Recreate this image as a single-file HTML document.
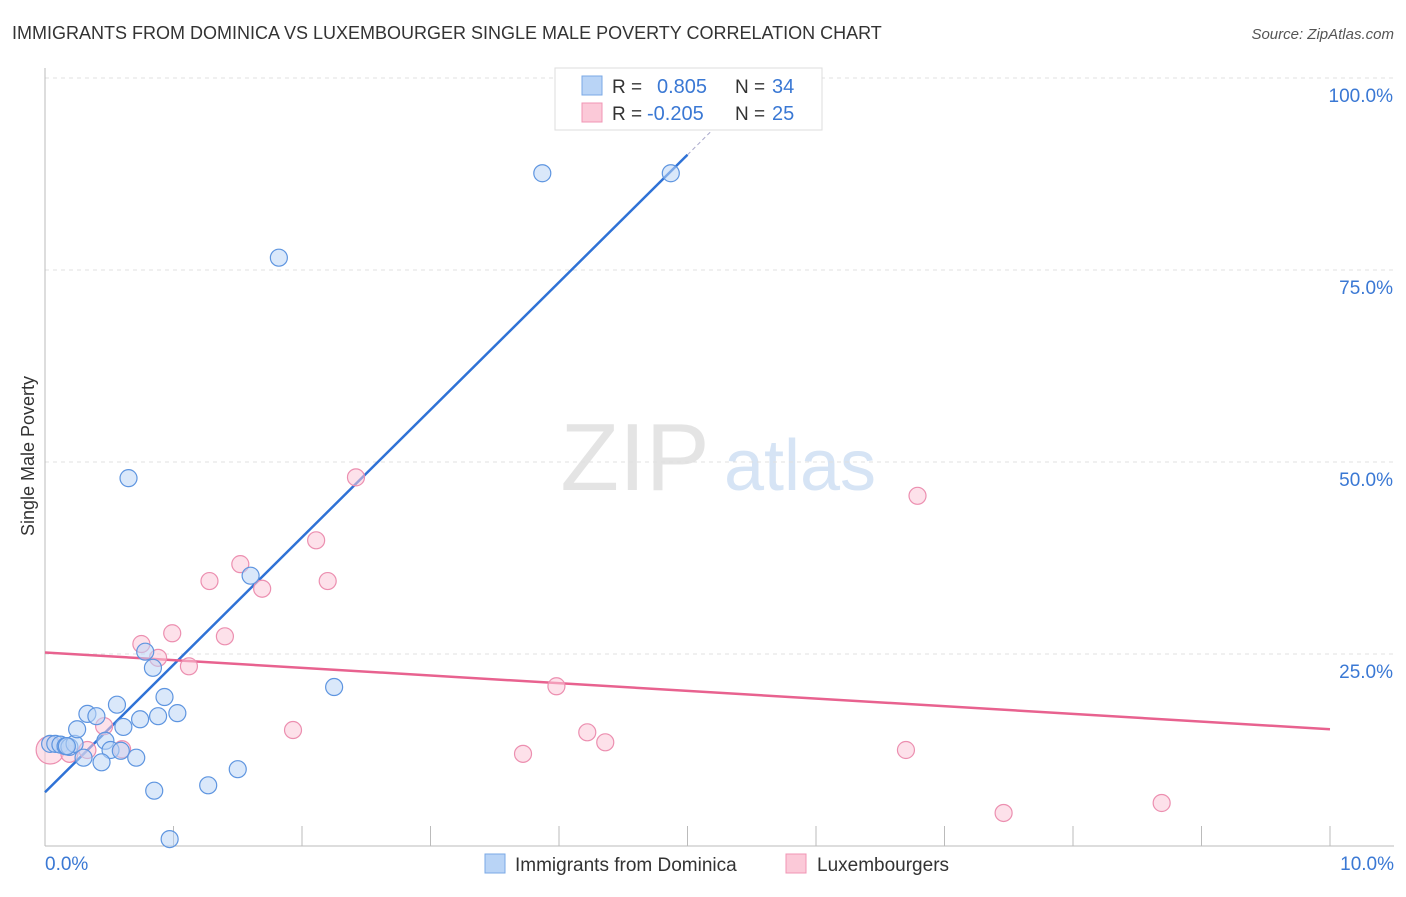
<!DOCTYPE html>
<html><head><meta charset="utf-8"><style>
body{margin:0;background:#fff;font-family:"Liberation Sans",sans-serif;}
svg text{font-family:"Liberation Sans",sans-serif;}
</style></head><body>
<svg width="1406" height="892" id="chart">
<text x="12" y="39" font-size="18" fill="#333">IMMIGRANTS FROM DOMINICA VS LUXEMBOURGER SINGLE MALE POVERTY CORRELATION CHART</text>
<text x="1394" y="39" font-size="15" fill="#555" font-style="italic" text-anchor="end">Source: ZipAtlas.com</text>
<text x="34" y="456" font-size="18" fill="#333" text-anchor="middle" transform="rotate(-90 34 456)">Single Male Poverty</text>
<g><text x="635" y="490" font-size="96" fill="#e4e4e4" font-family="Liberation Serif" text-anchor="middle">ZIP</text><text x="800" y="490" font-size="72" fill="#d6e4f5" text-anchor="middle">atlas</text></g>
<g id="grid"></g><g id="axes"></g><g id="lines"></g><g id="pts"></g>
<g>
<rect x="555" y="68" width="267" height="62" fill="#fff" stroke="#ddd"/>
<rect x="582" y="76" width="20" height="19" fill="#b9d4f6" stroke="#7aa8e6"/>
<rect x="582" y="103" width="20" height="19" fill="#fbc9d8" stroke="#f095b4"/>
<text x="612" y="93" font-size="19" fill="#333">R =</text><text x="657" y="93" font-size="20" fill="#3a78d4">0.805</text>
<text x="735" y="93" font-size="19" fill="#333">N =</text><text x="772" y="93" font-size="20" fill="#3a78d4">34</text>
<text x="612" y="120" font-size="19" fill="#333">R =</text><text x="647" y="120" font-size="20" fill="#3a78d4">-0.205</text>
<text x="735" y="120" font-size="19" fill="#333">N =</text><text x="772" y="120" font-size="20" fill="#3a78d4">25</text>
</g>
<g>
<rect x="485" y="854" width="20" height="19" fill="#b9d4f6" stroke="#7aa8e6"/>
<text x="515" y="871" font-size="19" fill="#333">Immigrants from Dominica</text>
<rect x="786" y="854" width="20" height="19" fill="#fbc9d8" stroke="#f095b4"/>
<text x="817" y="871" font-size="19" fill="#333">Luxembourgers</text>
</g>
</svg>
<script>
const xTicks=[0,1,2,3,4,5,6,7,8,9,10];
const yTicks=[25,50,75,100];
const yTickLabels=["25.0%","50.0%","75.0%","100.0%"];
const xTickLabels=["0.0%","10.0%"];
const blueX=[0.04,0.08,0.12,0.16,0.19,0.23,0.25,0.33,0.40,0.56,0.61,0.47,0.51,0.59,0.71,0.44,0.30,0.74,0.88,0.93,1.03,0.78,0.84,1.60,0.65,1.82,3.87,4.87,2.25,1.50,1.27,0.85,0.97,0.17];
const blueY=[13.3,13.3,13.2,13.0,12.9,13.3,15.2,17.2,16.9,18.4,15.5,13.7,12.5,12.4,11.5,10.9,11.5,16.5,16.9,19.4,17.3,25.3,23.2,35.2,47.9,76.6,87.6,87.6,20.7,10.0,7.9,7.2,0.9,13.0];
const pinkX=[0.04,0.46,0.33,0.60,0.19,0.75,0.88,0.99,1.12,1.28,1.40,1.52,1.69,2.11,2.20,2.42,1.93,3.72,3.98,4.22,4.36,6.70,6.79,7.46,8.69];
const pinkY=[12.5,15.6,12.5,12.6,12.0,26.3,24.5,27.7,23.4,34.5,27.3,36.7,33.5,39.8,34.5,48.0,15.1,12.0,20.8,14.8,13.5,12.5,45.6,4.3,5.6];
const blueLine=[[0,7.0],[5.0,90.0]];
const blueDash=[[5.0,90.0],[5.33,95.5]];
const pinkLine=[[0,25.2],[10,15.2]];
const NS="http://www.w3.org/2000/svg";
const xs=v=>45+v*128.5, ys=v=>846-v*7.68;
function mk(tag,attrs,parent){const e=document.createElementNS(NS,tag);for(const k in attrs)e.setAttribute(k,attrs[k]);document.getElementById(parent).appendChild(e);return e;}
yTicks.forEach((t,i)=>{
 const g=mk('line',{x1:45,x2:1394,y1:ys(t),y2:ys(t),stroke:'#e0e0e0','stroke-dasharray':'4,4'},'grid');
 
 
 const tx=mk('text',{x:1393,y:ys(t)+24,'font-size':19,fill:'#3a78d4','text-anchor':'end'},'grid');
 tx.textContent=yTickLabels[i];
 
 
});
const ax=mk('line',{x1:45,x2:45,y1:68,y2:846,stroke:'#bbb'},'axes');


const bx=mk('line',{x1:45,x2:1394,y1:846,y2:846,stroke:'#bbb'},'axes');


xTicks.forEach(t=>{
 const l=mk('line',{x1:xs(t),x2:xs(t),y1:826,y2:846,stroke:'#bbb'},'axes');
 
 
});
[[0,'start',45],[10,'end',1394]].forEach((d,i)=>{
 const tx=mk('text',{x:d[2],y:870,'font-size':19,fill:'#3a78d4','text-anchor':d[1]},'axes');
 tx.textContent=xTickLabels[i];
 
 
});
function pts(X,Y,fill,stroke,name){X.forEach((x,i)=>{
 const c=mk('circle',{cx:xs(x),cy:ys(Y[i]),r:i==0&&name=='pink-point'?14:8.5,fill:fill,'fill-opacity':0.55,stroke:stroke,'stroke-width':1.2},'pts');
 
 
});}
pts(pinkX,pinkY,'#fbc9d8','#ec8fb0','pink-point');
pts(blueX,blueY,'#bcd5f5','#5e95e0','blue-point');
function ln(L,color,w,dash,name){const e=mk('line',{x1:xs(L[0][0]),y1:ys(L[0][1]),x2:xs(L[1][0]),y2:ys(L[1][1]),stroke:color,'stroke-width':w},'lines');if(dash)e.setAttribute('stroke-dasharray',dash);
 
 }
ln(blueLine,'#2f72d6',2.5,null,'blue-trend-line');
ln(blueDash,'#aac',1,'4,3','blue-trend-extension');
ln(pinkLine,'#e8628f',2.5,null,'pink-trend-line');
</script>
</body></html>
